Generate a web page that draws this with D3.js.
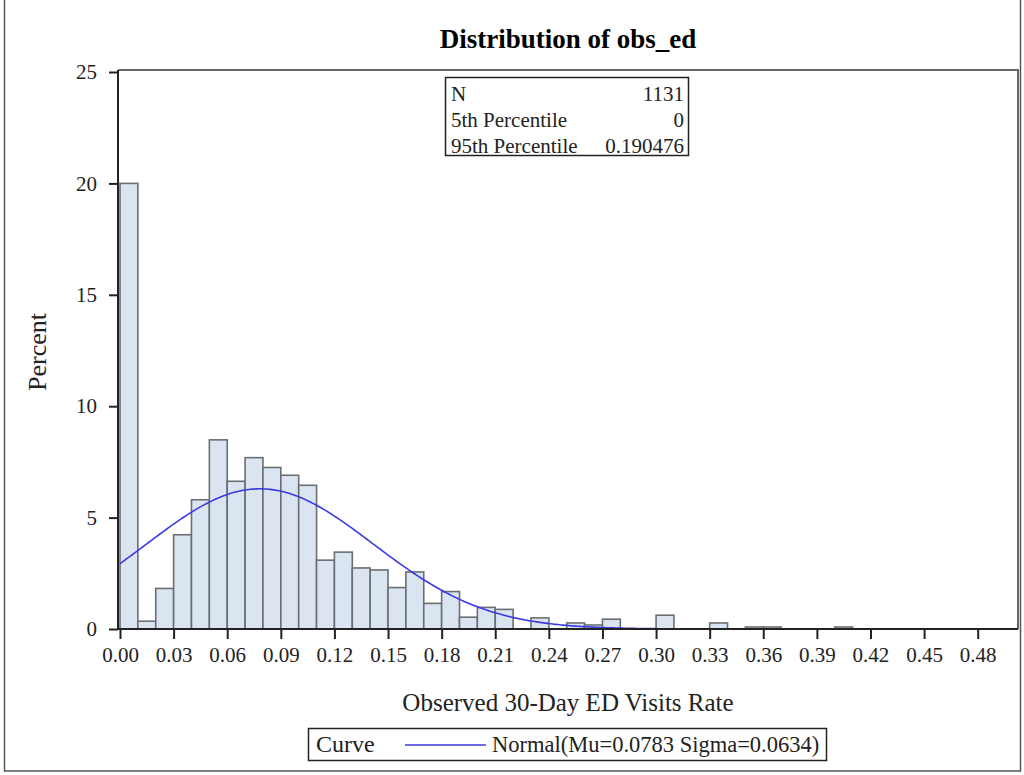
<!DOCTYPE html>
<html lang="en">
<head>
    <meta charset="UTF-8">
    <title>Distribution of obs_ed</title>
    <script src="https://d3js.org/d3.v7.js"></script>
</head>
<body style="margin: 0; background: white">
<script>
    // histogram bins (lower edge, width 0.01) and percent of observations
    const binStart = [0.00, 0.01, 0.02, 0.03, 0.04, 0.05, 0.06, 0.07, 0.08, 0.09,
                      0.10, 0.11, 0.12, 0.13, 0.14, 0.15, 0.16, 0.17, 0.18, 0.19,
                      0.20, 0.21, 0.23, 0.25, 0.26, 0.27, 0.30, 0.33, 0.35, 0.36, 0.40];
    const percent  = [20.0, 0.35, 1.82, 4.23, 5.80, 8.49, 6.63, 7.69, 7.25, 6.90,
                      6.45, 3.09, 3.45, 2.74, 2.65, 1.86, 2.56, 1.15, 1.68, 0.53,
                      0.97, 0.88, 0.50, 0.27, 0.18, 0.44, 0.62, 0.27, 0.09, 0.09, 0.09];
    const binWidth = 0.01;
    const xTicks = [0, 0.03, 0.06, 0.09, 0.12, 0.15, 0.18, 0.21, 0.24, 0.27,
                    0.30, 0.33, 0.36, 0.39, 0.42, 0.45, 0.48];
    const yTicks = [0, 5, 10, 15, 20, 25];
    const statLabels = ["N", "5th Percentile", "95th Percentile"];
    const statValues = ["1131", "0", "0.190476"];
    const mu = 0.0783, sigma = 0.0634;

    const W = 1024, H = 775;
    const plot = {left: 118, right: 1018, top: 70, bottom: 629};

    const svg = d3.select("body").append("svg")
        .attr("width", W)
        .attr("height", H)
        .style("font-family", "'Liberation Serif', 'Times New Roman', serif");

    // outer frame
    svg.append("rect")
        .attr("x", 4.5).attr("y", -1)
        .attr("width", 1016).attr("height", 772)
        .attr("fill", "none").attr("stroke", "#555").attr("stroke-width", 1.5);

    const x = d3.scaleLinear().domain([0, 0.48]).range([120, 977.7]);
    const y = d3.scaleLinear().domain([0, 25]).range([plot.bottom, 72]);

    // plot frame (top and right)
    svg.append("path")
        .attr("d", `M${plot.left},${plot.top}H${plot.right}V${plot.bottom}`)
        .attr("fill", "none").attr("stroke", "#666").attr("stroke-width", 2);

    // bars
    svg.append("g").selectAll("rect")
        .data(binStart.map((b, i) => ({b, p: percent[i]})))
        .join("rect")
        .attr("x", d => x(d.b))
        .attr("y", d => y(d.p))
        .attr("width", d => x(d.b + binWidth) - x(d.b))
        .attr("height", d => y(0) - y(d.p))
        .attr("fill", "#dbe5f1")
        .attr("stroke", "#6b6f73")
        .attr("stroke-width", 1.6);

    // fitted normal curve, in percent per bin
    const xMax = x.invert(plot.right - 1);
    const curvePts = d3.range(0, xMax, 0.001).concat([xMax]).map(v =>
        [v, 100 * binWidth / (sigma * Math.sqrt(2 * Math.PI)) *
            Math.exp(-((v - mu) ** 2) / (2 * sigma * sigma))]);
    svg.append("path")
        .datum(curvePts)
        .attr("d", d3.line().x(d => x(d[0])).y(d => y(d[1])))
        .attr("fill", "none")
        .attr("stroke", "#3a3ae0")
        .attr("stroke-width", 1.6);

    // axes
    const xAxis = svg.append("g")
        .attr("transform", `translate(0,${plot.bottom})`)
        .call(d3.axisBottom(x).tickValues(xTicks).tickFormat(d3.format(".2f"))
            .tickSize(10).tickSizeOuter(0));
    xAxis.select(".domain").attr("d", `M${plot.left},0H${plot.right}`)
        .attr("stroke", "#222").attr("stroke-width", 2);
    xAxis.selectAll(".tick line").attr("stroke", "#222").attr("stroke-width", 2);
    xAxis.selectAll(".tick text")
        .attr("y", 18).attr("dy", "0.71em")
        .style("font-family", "'Liberation Serif', serif")
        .style("font-size", "21px").attr("fill", "#222");

    const yAxis = svg.append("g")
        .attr("transform", `translate(${plot.left},0)`)
        .call(d3.axisLeft(y).tickValues(yTicks).tickSize(9).tickSizeOuter(0));
    yAxis.select(".domain").attr("d", `M0,${plot.top}V${plot.bottom}`)
        .attr("stroke", "#222").attr("stroke-width", 2);
    yAxis.selectAll(".tick line").attr("stroke", "#222").attr("stroke-width", 2);
    yAxis.selectAll(".tick text")
        .attr("x", -21)
        .style("font-family", "'Liberation Serif', serif")
        .style("font-size", "21px").attr("fill", "#222");

    // titles
    svg.append("text")
        .attr("x", 568).attr("y", 48)
        .attr("text-anchor", "middle")
        .style("font-size", "27px").style("font-weight", "bold")
        .text("Distribution of obs_ed");

    svg.append("text")
        .attr("x", 568).attr("y", 711)
        .attr("text-anchor", "middle")
        .style("font-size", "25px").attr("fill", "#222")
        .text("Observed 30-Day ED Visits Rate");

    svg.append("text")
        .attr("transform", "translate(46,352) rotate(-90)")
        .attr("text-anchor", "middle")
        .style("font-size", "26px").attr("fill", "#222")
        .text("Percent");

    // statistics inset
    const inset = svg.append("g");
    inset.append("rect")
        .attr("x", 445.5).attr("y", 77.5).attr("width", 243).attr("height", 78)
        .attr("fill", "white").attr("stroke", "#222").attr("stroke-width", 1.5);
    inset.selectAll("text.lab")
        .data(statLabels)
        .join("text")
        .attr("class", "lab")
        .attr("x", 451).attr("y", (d, i) => 101 + i * 26)
        .style("font-size", "21px").attr("fill", "#222")
        .text(d => d);
    inset.selectAll("text.val")
        .data(statValues)
        .join("text")
        .attr("class", "val")
        .attr("x", 684).attr("y", (d, i) => 101 + i * 26)
        .attr("text-anchor", "end")
        .style("font-size", "21px").attr("fill", "#222")
        .text(d => d);

    // legend
    const leg = svg.append("g");
    leg.append("rect")
        .attr("x", 308.5).attr("y", 728.5).attr("width", 518).attr("height", 32)
        .attr("fill", "white").attr("stroke", "#222").attr("stroke-width", 1.5);
    leg.append("text")
        .attr("x", 316).attr("y", 752)
        .style("font-size", "24px").attr("fill", "#222")
        .text("Curve");
    leg.append("line")
        .attr("x1", 405).attr("x2", 486).attr("y1", 745).attr("y2", 745)
        .attr("stroke", "#3a3ae0").attr("stroke-width", 1.4);
    leg.append("text")
        .attr("x", 492).attr("y", 752)
        .style("font-size", "22.5px").attr("fill", "#222")
        .text(`Normal(Mu=${mu} Sigma=${sigma})`);
</script>
</body>
</html>
